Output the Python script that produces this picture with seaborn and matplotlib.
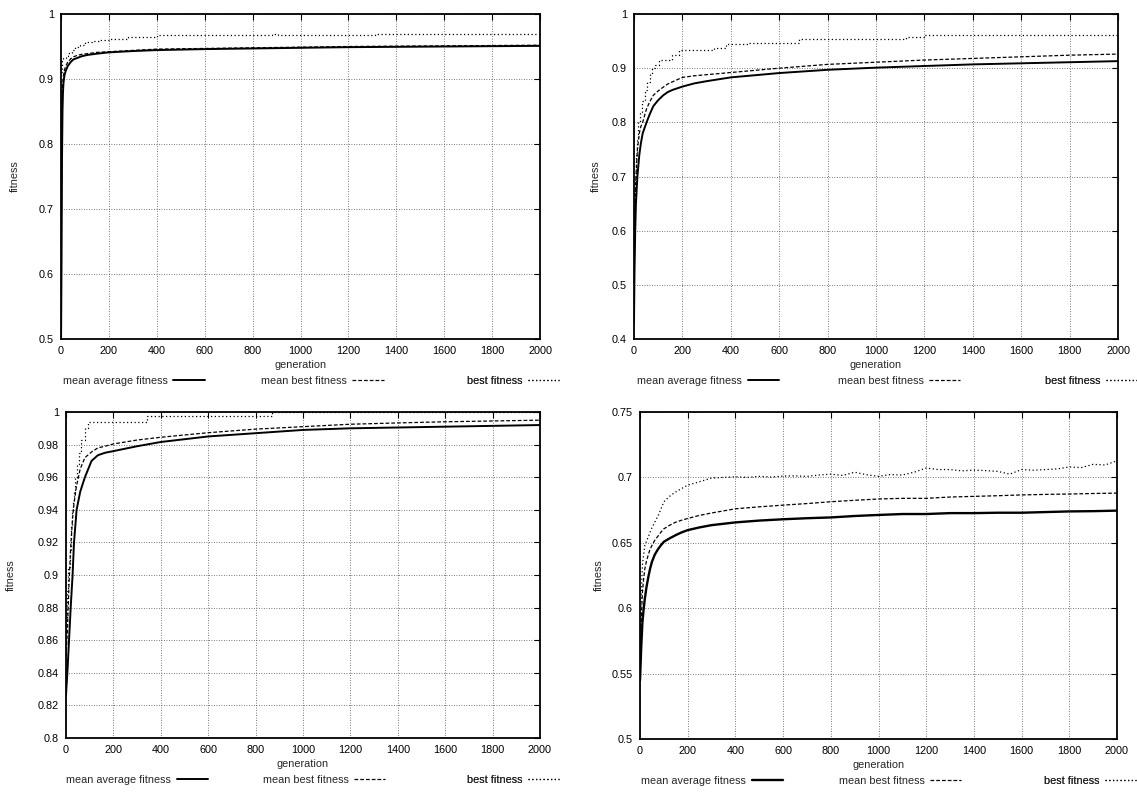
import numpy as np
import pandas as pd
import matplotlib
matplotlib.use("Agg")
import matplotlib.pyplot as plt
from matplotlib.ticker import FuncFormatter, MultipleLocator
import seaborn as sns

# ---- data ----
gen_1 = [0, 2, 4, 6, 8, 10, 12, 15, 20, 28, 40, 51, 65, 86, 110, 150, 200, 300, 400,
         600, 800, 1000, 1200, 1400, 1600, 1800, 2000]
mean_avg_1 = [0.50, 0.62, 0.78, 0.85, 0.88, 0.893, 0.90, 0.907, 0.913, 0.92, 0.926, 0.93,
              0.932, 0.935, 0.937, 0.939, 0.941, 0.943, 0.9445, 0.946, 0.947, 0.948,
              0.949, 0.9495, 0.950, 0.9505, 0.951]
mean_best_1 = [0.55, 0.75, 0.86, 0.89, 0.898, 0.905, 0.91, 0.915, 0.92, 0.926, 0.931, 0.934,
               0.936, 0.938, 0.939, 0.941, 0.942, 0.944, 0.946, 0.947, 0.948, 0.949,
               0.950, 0.9505, 0.951, 0.9515, 0.952]
best_gen_1 = [0, 4, 10, 20, 30, 45, 60, 80, 100, 130, 160, 200, 280, 400, 880, 905, 1310, 2000]
best_1 = [0.911, 0.928, 0.932, 0.936, 0.94, 0.945, 0.95, 0.953, 0.957, 0.959, 0.96,
          0.962, 0.965, 0.9675, 0.969, 0.9675, 0.9695, 0.9695]

gen_2 = [0, 2, 5, 8, 14, 22, 28, 36, 44, 52, 65, 80, 100, 121, 140, 160, 200, 250, 300,
         400, 600, 800, 1000, 1200, 1400, 1600, 1800, 2000]
mean_avg_2 = [0.43, 0.52, 0.60, 0.65, 0.70, 0.74, 0.76, 0.78, 0.79, 0.80, 0.815, 0.83,
              0.841, 0.85, 0.856, 0.86, 0.866, 0.872, 0.876, 0.883, 0.891, 0.897, 0.901,
              0.904, 0.907, 0.909, 0.911, 0.913]
mean_best_2 = [0.45, 0.58, 0.66, 0.70, 0.75, 0.78, 0.792, 0.80, 0.813, 0.825, 0.838, 0.85,
               0.858, 0.865, 0.871, 0.875, 0.883, 0.886, 0.888, 0.892, 0.900, 0.907, 0.911,
               0.915, 0.918, 0.921, 0.924, 0.926]
best_gen_2 = [0, 2, 4, 8, 12, 18, 25, 35, 45, 55, 65, 73, 85, 105, 157, 187, 330, 382,
              472, 682, 1124, 1200, 2000]
best_2 = [0.55, 0.64, 0.70, 0.74, 0.77, 0.80, 0.82, 0.84, 0.86, 0.875, 0.89, 0.90, 0.905,
          0.915, 0.925, 0.933, 0.938, 0.944, 0.947, 0.953, 0.957, 0.962, 0.962]

gen_3 = [0, 6, 13, 20, 28, 34, 45, 60, 80, 108, 135, 165, 200, 300, 400, 600, 800, 1000,
         1200, 1400, 1600, 1800, 2000]
mean_avg_3 = [0.826, 0.84, 0.86, 0.88, 0.90, 0.92, 0.94, 0.951, 0.96, 0.97, 0.9735, 0.975,
              0.976, 0.979, 0.9816, 0.985, 0.987, 0.989, 0.990, 0.9905, 0.991, 0.9915, 0.992]
mean_best_3 = [0.85, 0.865, 0.895, 0.917, 0.935, 0.944, 0.955, 0.965, 0.972, 0.9755, 0.978,
               0.979, 0.9804, 0.9828, 0.9845, 0.9873, 0.9895, 0.991, 0.9925, 0.9933, 0.994,
               0.9945, 0.995]
best_gen_3 = [0, 5, 10, 15, 20, 25, 30, 35, 40, 48, 55, 65, 80, 94, 340, 870, 2000]
best_3 = [0.87, 0.89, 0.905, 0.915, 0.93, 0.94, 0.945, 0.952, 0.96, 0.968, 0.975, 0.983,
          0.99, 0.994, 0.9975, 1.0, 1.0]

gen_4 = [0, 3, 5, 10, 15, 20, 27, 35, 42, 50, 62, 75, 87, 100, 125, 150, 175, 200, 250,
         300, 400, 500, 600, 700, 800, 900, 1000, 1100, 1200, 1300, 1400, 1500, 1600,
         1700, 1800, 1900, 2000]
mean_avg_4 = [0.545, 0.56, 0.57, 0.589, 0.599, 0.607, 0.616, 0.624, 0.630, 0.6355, 0.641,
              0.645, 0.648, 0.6508, 0.6535, 0.6559, 0.658, 0.6597, 0.6618, 0.6635, 0.6656,
              0.667, 0.668, 0.6688, 0.6694, 0.6705, 0.6713, 0.672, 0.672, 0.6727, 0.6727,
              0.673, 0.673, 0.6735, 0.674, 0.6742, 0.6746]
mean_best_4 = [0.55, 0.575, 0.59, 0.612, 0.622, 0.630, 0.636, 0.641, 0.645, 0.648, 0.652,
               0.655, 0.658, 0.6607, 0.6635, 0.6658, 0.6673, 0.6686, 0.671, 0.6728, 0.676,
               0.6775, 0.6788, 0.680, 0.6814, 0.6825, 0.6835, 0.684, 0.684, 0.685, 0.6855,
               0.686, 0.6866, 0.687, 0.6873, 0.6877, 0.688]
best_gen_4 = [0, 3, 10, 20, 50, 78, 100, 130, 160, 200, 250, 300, 350, 400, 450, 500, 550,
              600, 650, 700, 750, 800, 850, 900, 950, 1000, 1050, 1100, 1150, 1200, 1250,
              1300, 1350, 1400, 1450, 1500, 1550, 1600, 1650, 1700, 1750, 1800, 1850, 1900,
              1950, 2000]
best_4 = [0.55, 0.60, 0.633, 0.648, 0.6615, 0.6715, 0.6814, 0.6865, 0.690, 0.6941, 0.6967,
          0.6995, 0.7, 0.7005, 0.7, 0.7008, 0.7003, 0.701, 0.7012, 0.7008, 0.7018, 0.7025,
          0.7015, 0.704, 0.702, 0.7008, 0.7022, 0.7018, 0.704, 0.7072, 0.706, 0.706, 0.705,
          0.7056, 0.7052, 0.7046, 0.7025, 0.706, 0.7055, 0.706, 0.7065, 0.708, 0.7075,
          0.710, 0.7095, 0.7127]

labels = ["mean average fitness", "mean best fitness", "best fitness"]

panels = [
    dict(rect=[0.0537, 0.5741, 0.4213, 0.4083], ylim=(0.5, 1.0), ystep=0.1,
         gen=gen_1, avg=mean_avg_1, mbest=mean_best_1, bgen=best_gen_1, best=best_1,
         step=True, ylpad=14, avg_lw=1.4),
    dict(rect=[0.5576, 0.5741, 0.4257, 0.4083], ylim=(0.4, 1.0), ystep=0.1,
         gen=gen_2, avg=mean_avg_2, mbest=mean_best_2, bgen=best_gen_2, best=best_2,
         step=True, ylpad=8, avg_lw=1.4),
    dict(rect=[0.0580, 0.0729, 0.4169, 0.4095], ylim=(0.8, 1.0), ystep=0.02,
         gen=gen_3, avg=mean_avg_3, mbest=mean_best_3, bgen=best_gen_3, best=best_3,
         step=True, ylpad=16, avg_lw=1.4),
    dict(rect=[0.5629, 0.0716, 0.4195, 0.4108], ylim=(0.5, 0.75), ystep=0.05,
         gen=gen_4, avg=mean_avg_4, mbest=mean_best_4, bgen=best_gen_4, best=best_4,
         step=False, ylpad=6, avg_lw=1.7),
]

FS = 7.8

sns.set_style("white")
plt.rcParams["font.family"] = ["Liberation Sans", "DejaVu Sans"]
plt.rcParams["font.size"] = FS

fig = plt.figure(figsize=(11.37, 7.96), dpi=100)

fmt = FuncFormatter(lambda v, pos: f"{round(v, 4):g}")

for p in panels:
    ax = fig.add_axes(p["rect"])
    sns.lineplot(x=p["gen"], y=p["avg"], ax=ax, color="black", lw=p["avg_lw"],
                 label=labels[0], legend=False, estimator=None, sort=False)
    sns.lineplot(x=p["gen"], y=p["mbest"], ax=ax, color="black", lw=0.9,
                 linestyle=(0, (3.0, 1.6)), label=labels[1],
                 legend=False, estimator=None, sort=False)
    sns.lineplot(x=p["bgen"], y=p["best"], ax=ax, color="black", lw=0.9,
                 linestyle=(0, (1.0, 2.0)), label=labels[2], legend=False,
                 estimator=None, sort=False,
                 drawstyle="steps-post" if p["step"] else "default")

    ax.set_xlim(0, 2000)
    ax.set_ylim(*p["ylim"])
    ax.xaxis.set_major_locator(MultipleLocator(200))
    ax.yaxis.set_major_locator(MultipleLocator(p["ystep"]))
    ax.yaxis.set_major_formatter(fmt)
    ax.grid(True, color="0.3", lw=0.6, linestyle=(0, (1, 2)))
    ax.tick_params(direction="in", top=True, right=True, length=4, width=0.8,
                   labelsize=FS, pad=5, colors="black")
    for s in ax.spines.values():
        s.set_linewidth(1.3)
        s.set_color("black")
    ax.set_xlabel("generation", fontsize=FS, labelpad=3)
    ax.set_ylabel("fitness", fontsize=FS, labelpad=p["ylpad"])

    handles = ax.get_lines()[:3]
    for h, lab, xr in zip(handles, labels, [0.30, 0.674, 1.04]):
        lg = ax.legend([h], [lab], loc="center right", bbox_to_anchor=(xr, -0.128),
                       frameon=False, markerfirst=False, handlelength=2.9,
                       handletextpad=0.5, borderaxespad=0, borderpad=0,
                       fontsize=FS)
        ax.add_artist(lg)

fig.savefig("out.png", dpi=100)
